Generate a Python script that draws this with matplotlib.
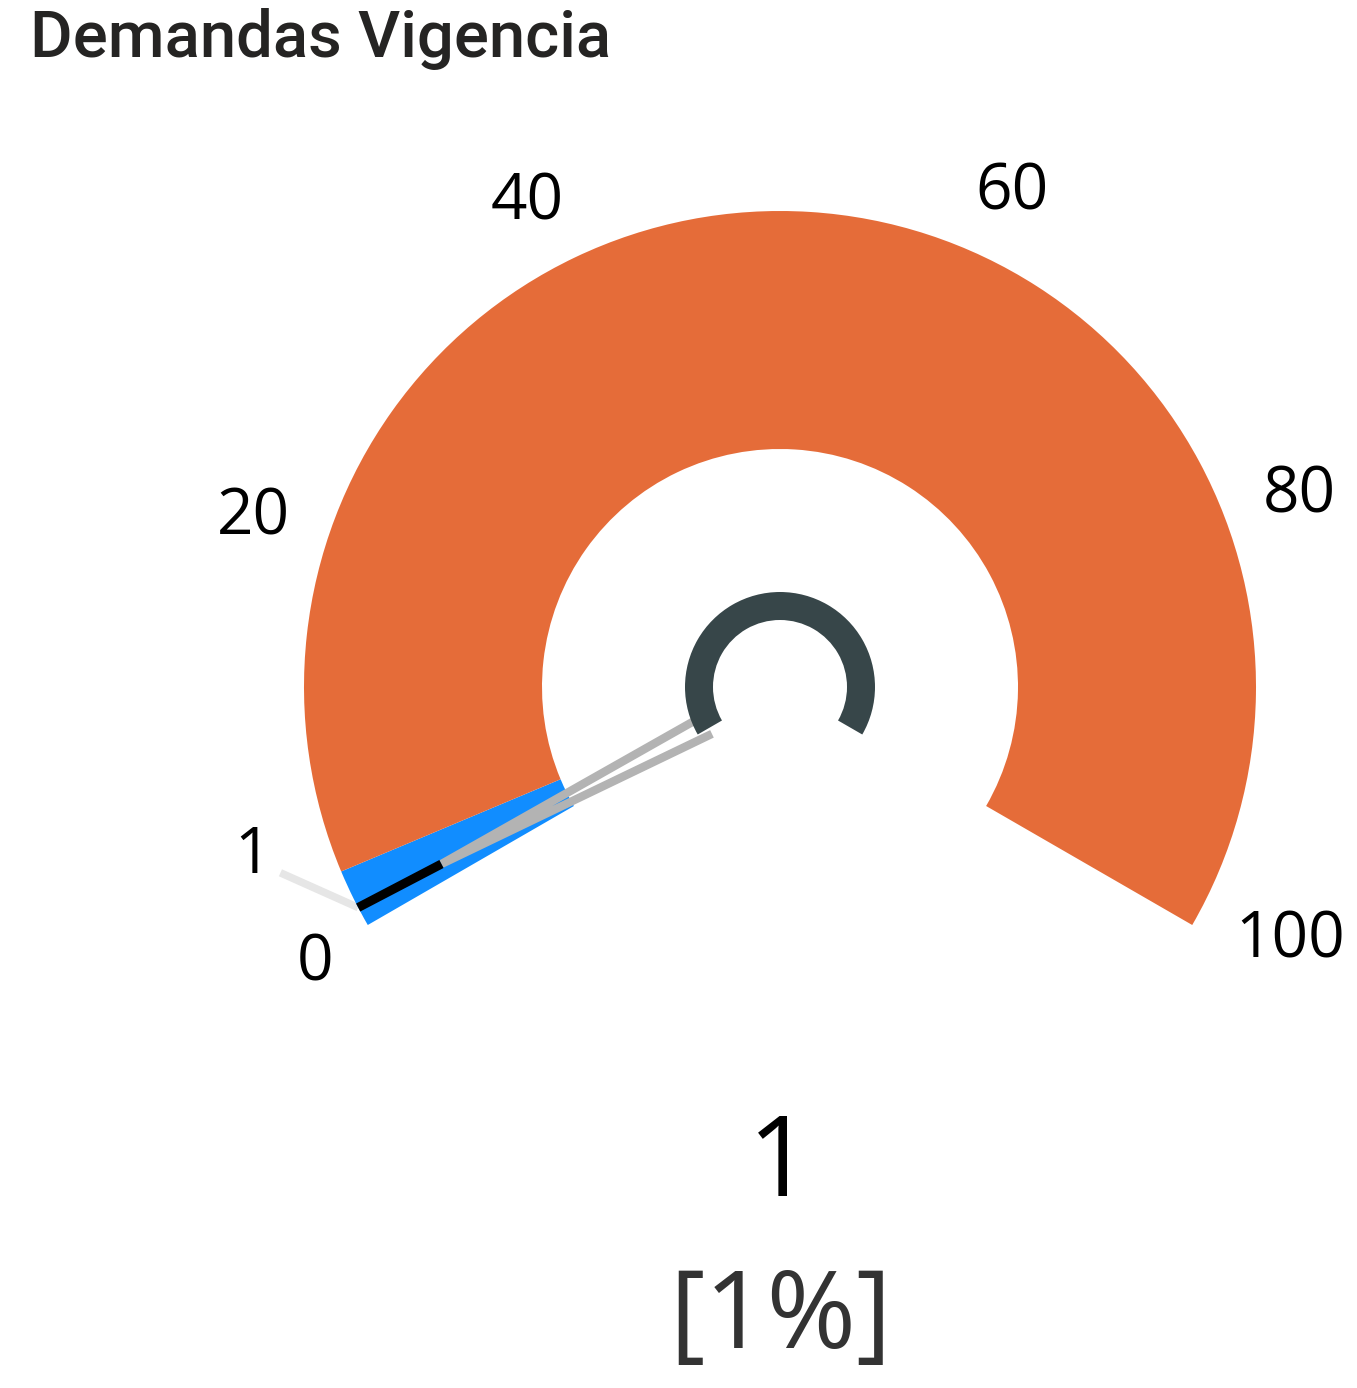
import numpy as np
import matplotlib.pyplot as plt
from matplotlib.patches import Wedge

# datos del indicador
titulo = "Demandas Vigencia"
minimo, maximo = 0, 100
valor = 1
rangos = [(0, 3), (3, 100)]
colores_rango = ["#118DFF", "#E56C39"]
marcas = [0, 20, 40, 60, 80, 100]

# ajuste fino de las etiquetas (px, hacia la derecha / hacia arriba)
ajustes = [(13, 5), (-2, 4), (-28, -15), (7, -5), (-6, 26), (32, 28)]

W, H = 1357, 1388
fig = plt.figure(figsize=(W / 100, H / 100), dpi=100)
ax = fig.add_axes([0, 0, 1, 1])
ax.set_xlim(0, W)
ax.set_ylim(0, H)
ax.set_aspect('equal')
ax.axis('off')

cx, cy = 780, 701
r_ext, r_int = 476, 238
ang_ini, ang_fin = 210, -30
fuente = 'Open Sans'


def angulo(v):
    return ang_ini + (ang_fin - ang_ini) * (v - minimo) / (maximo - minimo)


def punto(r, a):
    t = np.radians(a)
    return cx + r * np.cos(t), cy + r * np.sin(t)


# bandas
for (a, b), c in zip(rangos, colores_rango):
    ax.add_patch(Wedge((cx, cy), r_ext, angulo(b), angulo(a), width=r_ext - r_int,
                       facecolor=c, edgecolor='none', zorder=2))

# etiquetas de la escala
for m, (dx, dy) in zip(marcas, ajustes):
    x, y = punto(552, angulo(m))
    ax.text(x + dx, y + dy - 22, str(m), ha='center', va='baseline',
            fontsize=46, family=fuente, color='black')

# aguja
a = angulo(valor)
t = np.radians(a)
u = np.array([np.cos(t), np.sin(t)])
p = np.array([-np.sin(t), np.cos(t)])
c0 = np.array([cx, cy])
punta = c0 + 382 * u
b1 = c0 + 82 * u + 10 * p
b2 = c0 + 82 * u - 10 * p
ax.plot([b1[0], punta[0], b2[0]], [b1[1], punta[1], b2[1]], color='#B3B3B3',
        lw=6, solid_joinstyle='miter', solid_capstyle='butt', zorder=3)
x1, y1 = punto(382, a)
x2, y2 = punto(476, a)
ax.plot([x1, x2], [y1, y2], color='black', lw=6.5, solid_capstyle='butt', zorder=4)

# aro central
ax.add_patch(Wedge((cx, cy), 95, ang_fin, ang_ini, width=28,
                   facecolor='#374649', edgecolor='none', zorder=5))

# etiqueta del valor junto a la aguja
xe, ye = punto(533, a - 7.2)
ax.plot([x2, xe], [y2, ye], color='#E6E6E6', lw=5.5, solid_capstyle='butt', zorder=1)
ax.text(xe - 10, ye, str(valor), ha='right', va='baseline',
        fontsize=46, family=fuente, color='black')

# valor y porcentaje
ax.text(cx, H - 1196, str(valor), ha='center', va='baseline',
        fontsize=80, family=fuente, color='black')
pct = 100 * (valor - minimo) / (maximo - minimo)
ax.text(cx + 1, H - 1348, f"[{pct:.0f}%]", ha='center', va='baseline',
        fontsize=78, family=fuente, color='#333333')

# título
ax.text(30, H - 57, titulo, ha='left', va='baseline', fontsize=47,
        family='Roboto', fontweight='medium', color='#252423')

fig.savefig('out.png', dpi=100)
